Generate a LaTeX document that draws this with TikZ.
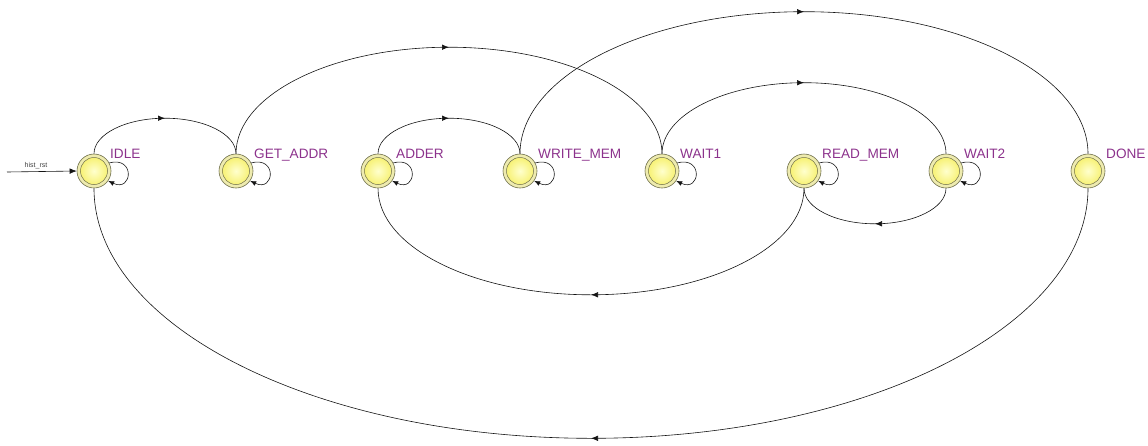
\documentclass[tikz,border=0pt]{standalone}
\usepackage{fontspec}
\setmainfont{Liberation Sans}
\usetikzlibrary{arrows.meta,decorations.markings,calc}
\definecolor{lblc}{RGB}{140,50,140}
\definecolor{ringc}{RGB}{110,110,75}
\definecolor{ringfill}{RGB}{238,235,175}
\definecolor{ballin}{RGB}{255,255,205}
\definecolor{ballout}{RGB}{245,238,95}
\definecolor{edgec}{RGB}{20,20,20}
\begin{document}
\begin{tikzpicture}[x=1pt,y=1pt,
  state/.style={circle, minimum size=34pt, inner sep=0pt, draw=ringc, line width=0.6pt, fill=ringfill,
     path picture={\draw[ringc, line width=0.5pt, inner color=ballin, outer color=ballout]
       (path picture bounding box.center) circle (13.5pt);}},
  lbl/.style={anchor=base west, inner sep=0pt, text=lblc, font=\fontsize{13.6}{15}\selectfont},
  tr/.style={draw=edgec, line width=0.6pt, postaction={decorate},
     decoration={markings, mark=at position 0.5 with {\arrow{Latex[length=7pt,width=5.5pt]}}}},
  selfloop/.style={draw=edgec, line width=0.6pt, -{Latex[length=6pt,width=5pt]}},
  reset/.style={draw=edgec, line width=0.6pt, -{Latex[length=7pt,width=5.5pt]}}
]
\useasboundingbox (0,0) rectangle (1148,-445);

\node[state] (idle)  at (94,-171) {};
\node[state] (geta)  at (236,-171) {};
\node[state] (adder) at (378,-171) {};
\node[state] (wmem)  at (520,-171) {};
\node[state] (wait1) at (662,-171) {};
\node[state] (rmem)  at (804,-171) {};
\node[state] (wait2) at (946,-171) {};
\node[state] (done)  at (1088,-171) {};

\node[lbl] (idle-l)  at ($(idle.center)+(16,13)$)  {IDLE};
\node[lbl] (geta-l)  at ($(geta.center)+(18,13)$)  {GET\_ADDR};
\node[lbl] (adder-l) at ($(adder.center)+(18,13)$) {ADDER};
\node[lbl] (wmem-l)  at ($(wmem.center)+(18,13)$)  {WRITE\_MEM};
\node[lbl] (wait1-l) at ($(wait1.center)+(18,13)$) {WAIT1};
\node[lbl] (rmem-l)  at ($(rmem.center)+(18,13)$)  {READ\_MEM};
\node[lbl] (wait2-l) at ($(wait2.center)+(18,13)$) {WAIT2};
\node[lbl] (done-l)  at ($(done.center)+(18,13)$)  {DONE};

% reset input
\coordinate (rst) at (7,-172);
\draw[reset] (rst) -- (idle.west);
\node[anchor=base, inner sep=0pt, text=black!75, font=\fontsize{7}{8}\selectfont] (rst-l) at (36,-167) {hist\_rst};

% self loops
\foreach \n in {idle,geta,adder,wmem,wait1,rmem,wait2}{
  \draw[selfloop] (\n.28) .. controls +(15:27) and +(-25:27) .. (\n.-35);
}

% top arcs (left to right)
\draw[tr] (idle.north)  arc[start angle=180, end angle=0, x radius=71pt,  y radius=35.5pt];
\draw[tr] (geta.north)  arc[start angle=180, end angle=0, x radius=213pt, y radius=106.5pt];
\draw[tr] (adder.north) arc[start angle=180, end angle=0, x radius=71pt,  y radius=35.5pt];
\draw[tr] (wmem.north)  arc[start angle=180, end angle=0, x radius=284pt, y radius=142pt];
\draw[tr] (wait1.north) arc[start angle=180, end angle=0, x radius=142pt, y radius=71pt];

% bottom arcs (right to left)
\draw[tr] (rmem.south)  arc[start angle=0, end angle=-180, x radius=213pt, y radius=106.5pt];
\draw[tr] (wait2.south) arc[start angle=0, end angle=-180, x radius=71pt,  y radius=35.5pt];
\draw[tr] (done.south)  arc[start angle=0, end angle=-180, x radius=497pt, y radius=250pt];
\end{tikzpicture}
\end{document}
